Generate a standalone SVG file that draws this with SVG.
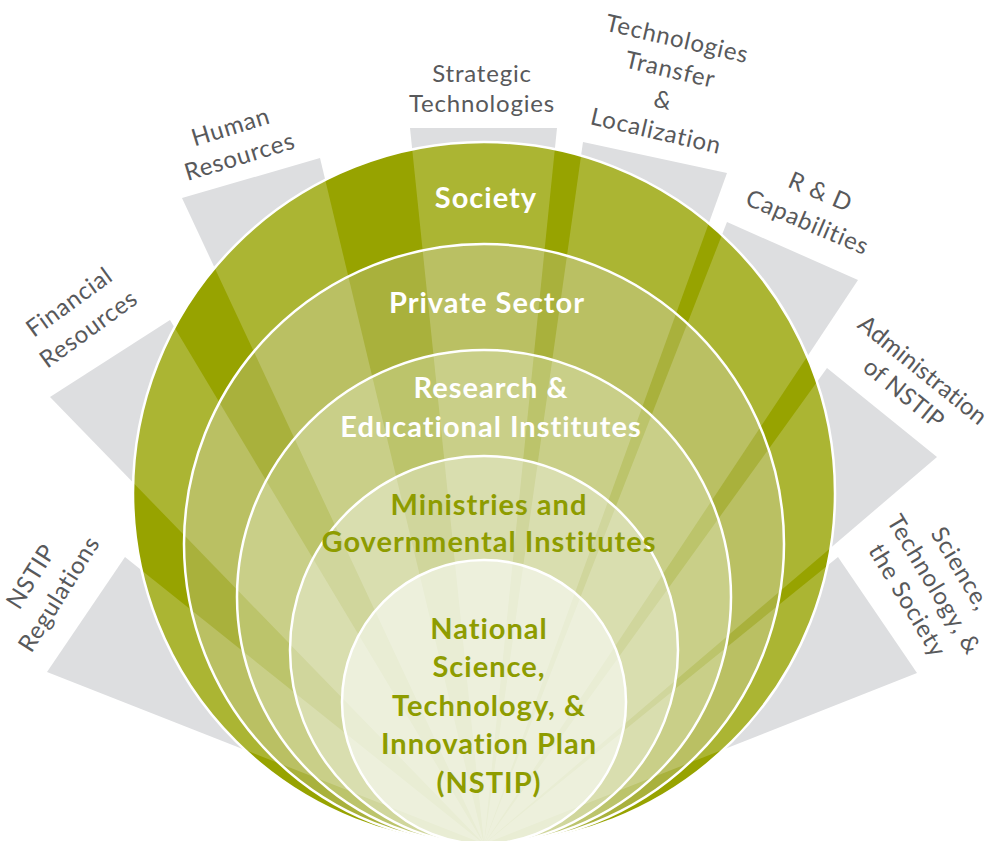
<svg xmlns="http://www.w3.org/2000/svg" width="997" height="841" viewBox="0 0 997 841">
  <defs>
    <style>
      .ray { fill: #dddee0; }
      .glow { fill: #ffffff; fill-opacity: 0.2; }
      .edge { fill: none; stroke: #ffffff; stroke-width: 2.5; }
      .lbl { font-family: Lato, "Open Sans", sans-serif; font-size: 24px; letter-spacing: 0.8px; fill: #58595b; text-anchor: middle; }
      .tight { letter-spacing: 0.2px; }
      .tw { font-family: Lato, "Open Sans", sans-serif; font-weight: 700; font-size: 29px; letter-spacing: 1px; fill: #ffffff; text-anchor: middle; }
      .to { font-family: Lato, "Open Sans", sans-serif; font-weight: 700; font-size: 29px; letter-spacing: 1px; fill: #8e9c00; text-anchor: middle; }
    </style>
    <!-- fan of wedges, all meeting at the common tangent point of the circles -->
    <g id="fan">
      <polygon points="484,844 125,557 47,672"/>
      <polygon points="484,844 170,320 50,397"/>
      <polygon points="484,844 182,198 320,158"/>
      <polygon points="484,844 410,128 557,128"/>
      <polygon points="484,844 583,142 727,173"/>
      <polygon points="484,844 727,222 858,280"/>
      <polygon points="484,844 827,368 937,457"/>
      <polygon points="484,844 838,557 917,673"/>
    </g>
    <clipPath id="c1"><circle cx="484" cy="493" r="351"/></clipPath>
    <clipPath id="c2"><circle cx="484" cy="544" r="300"/></clipPath>
    <clipPath id="c3"><circle cx="484" cy="597" r="247"/></clipPath>
    <clipPath id="c4"><circle cx="484" cy="650" r="194"/></clipPath>
    <clipPath id="c5"><circle cx="484" cy="702" r="142"/></clipPath>
  </defs>

  <rect width="997" height="841" fill="#ffffff"/>

  <!-- grey wedges leading out to the labels -->
  <g id="connectors">
    <use href="#fan" class="ray"/>
  </g>

  <!-- nested circles, outermost first -->
  <g id="society">
    <circle cx="484" cy="493" r="351" fill="#97a300"/>
    <use href="#fan" class="glow" clip-path="url(#c1)"/>
    <circle class="edge" cx="484" cy="493" r="351"/>
    <text class="tw" x="486" y="208">Society</text>
  </g>

  <g id="private-sector">
    <circle cx="484" cy="544" r="300" fill="#a9b13c"/>
    <use href="#fan" class="glow" clip-path="url(#c2)"/>
    <circle class="edge" cx="484" cy="544" r="300"/>
    <text class="tw" x="487" y="313">Private Sector</text>
  </g>

  <g id="research">
    <circle cx="484" cy="597" r="247" fill="#bcc46b"/>
    <use href="#fan" class="glow" clip-path="url(#c3)"/>
    <circle class="edge" cx="484" cy="597" r="247"/>
    <text class="tw"><tspan x="491" y="398">Research &amp;</tspan><tspan x="491" y="437">Educational Institutes</tspan></text>
  </g>

  <g id="ministries">
    <circle cx="484" cy="650" r="194" fill="#d0d69c"/>
    <use href="#fan" class="glow" clip-path="url(#c4)"/>
    <circle class="edge" cx="484" cy="650" r="194"/>
    <text class="to"><tspan x="489" y="515">Ministries and</tspan><tspan x="489" y="552">Governmental Institutes</tspan></text>
  </g>

  <g id="nstip">
    <circle cx="484" cy="702" r="142" fill="#e9edd4"/>
    <use href="#fan" class="glow" clip-path="url(#c5)"/>
    <circle class="edge" cx="484" cy="702" r="142"/>
    <text class="to"><tspan x="489" y="638.5">National</tspan><tspan x="489" y="677">Science,</tspan><tspan x="489" y="715.5">Technology, &amp;</tspan><tspan x="489" y="754">Innovation Plan</tspan><tspan x="489" y="792.5">(NSTIP)</tspan></text>
  </g>

  <!-- outer labels -->
  <g id="label-regulations" transform="translate(32,577) rotate(-58)">
    <text class="lbl"><tspan x="0" y="7">NSTIP</tspan><tspan x="0" y="40">Regulations</tspan></text>
  </g>
  <g id="label-financial" transform="translate(70,303) rotate(-36)">
    <text class="lbl"><tspan x="0" y="7">Financial</tspan><tspan x="0" y="40">Resources</tspan></text>
  </g>
  <g id="label-human" transform="translate(231,128) rotate(-17)">
    <text class="lbl"><tspan x="0" y="7">Human</tspan><tspan x="0" y="38">Resources</tspan></text>
  </g>
  <g id="label-strategic">
    <text class="lbl"><tspan x="482" y="82">Strategic</tspan><tspan x="482" y="112">Technologies</tspan></text>
  </g>
  <g id="label-transfer" transform="translate(677,40) rotate(13)">
    <text class="lbl"><tspan x="0" y="7">Technologies</tspan><tspan x="0" y="38.5">Transfer</tspan><tspan x="0" y="70">&amp;</tspan><tspan x="0" y="101.5">Localization</tspan></text>
  </g>
  <g id="label-rd" transform="translate(820,193) rotate(23)">
    <text class="lbl"><tspan x="0" y="7">R &amp; D</tspan><tspan x="0" y="40">Capabilities</tspan></text>
  </g>
  <g id="label-admin" transform="translate(922,371) rotate(39)">
    <text class="lbl tight"><tspan x="0" y="7">Administration</tspan><tspan x="0" y="37">of NSTIP</tspan></text>
  </g>
  <g id="label-society" transform="translate(933,585) rotate(59)">
    <text class="lbl"><tspan x="0" y="-24">Science,</tspan><tspan x="0" y="7">Technology, &amp;</tspan><tspan x="0" y="38">the Society</tspan></text>
  </g>
</svg>
